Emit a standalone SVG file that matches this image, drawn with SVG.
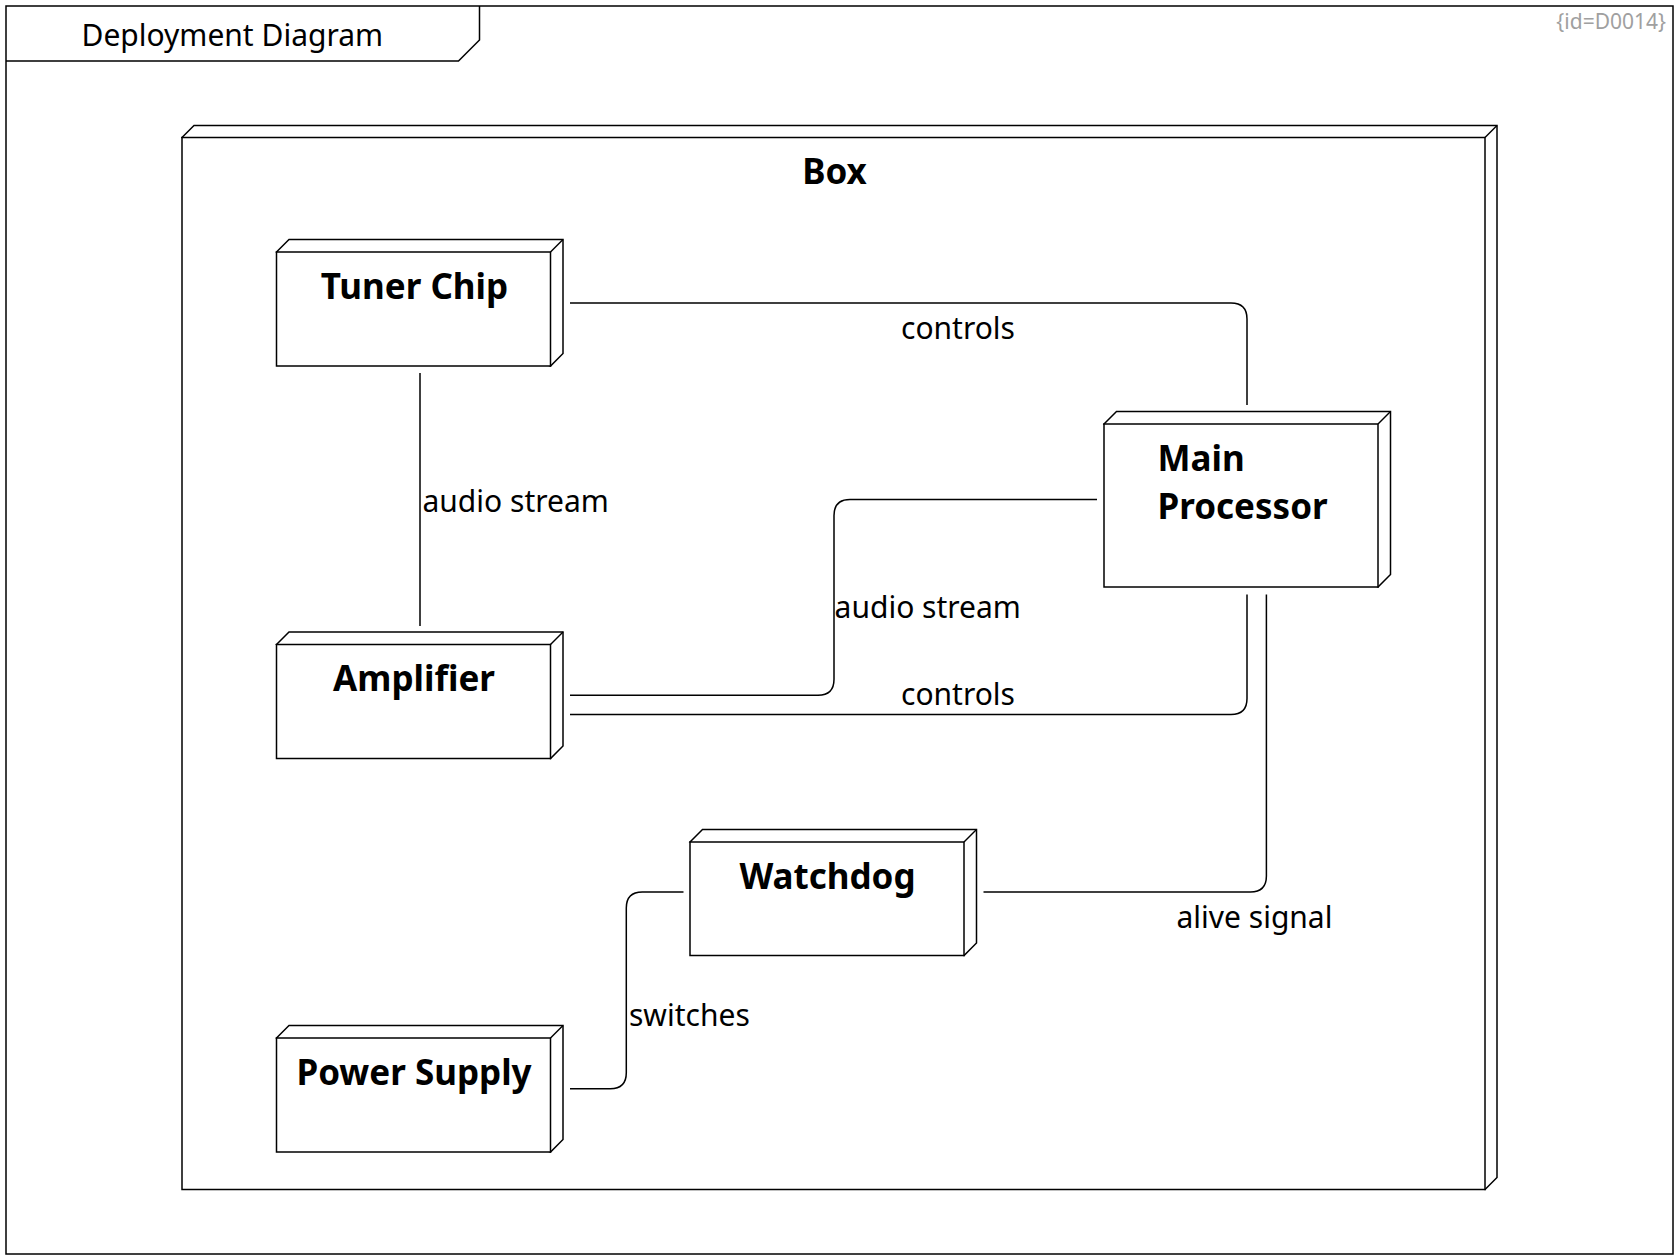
<svg xmlns="http://www.w3.org/2000/svg" width="1680" height="1260" viewBox="0 0 1680 1260">
<style>
.sh{fill:#ffffff;stroke:#000000;stroke-width:1.5;stroke-linejoin:miter}
.ln{fill:none;stroke:#000000;stroke-width:1.5}
.t{font-family:"Noto Sans","Open Sans",sans-serif;fill:#000000}
.nt{font-family:"Noto Sans","Open Sans",sans-serif;font-weight:bold;font-size:35px;fill:#000000}
.lb{font-family:"Noto Sans","Open Sans",sans-serif;font-size:30px;fill:#000000}
</style>
<rect width="1680" height="1260" fill="#ffffff"/>
<g id="frame">
<rect class="sh" x="6" y="6" width="1667" height="1248"/>
<path class="ln" d="M6,61 H458.5 L479.5,40 V6"/>
<text class="t" x="81.5" y="45.7" font-size="30">Deployment Diagram</text>
<text x="1666" y="29" font-family="Noto Sans, Open Sans, sans-serif" font-size="21" fill="#a0a0a0" text-anchor="end">{id=D0014}</text>
</g>
<g id="box">
<path class="sh" d="M182,137.5 l12,-12 h1303 v1052 l-12,12 z"/>
<rect class="sh" x="182" y="137.5" width="1303" height="1052"/>
<line class="ln" x1="1485" y1="137.5" x2="1497" y2="125.5"/>
<text class="nt" x="834.5" y="184" text-anchor="middle">Box</text>
</g>
<g id="connectors">
<path class="ln" d="M570,303 H1231 Q1247,303 1247,319 V405"/>
<path class="ln" d="M420,373 V626"/>
<path class="ln" d="M570,695.3 H818 Q834,695.3 834,679.3 V515.5 Q834,499.5 850,499.5 H1097"/>
<path class="ln" d="M570,714.4 H1231 Q1247,714.4 1247,698.4 V594.6"/>
<path class="ln" d="M983.5,892 H1250.4 Q1266.4,892 1266.4,876 V594.6"/>
<path class="ln" d="M570,1088.7 H610.3 Q626.3,1088.7 626.3,1072.7 V908 Q626.3,892 642.3,892 H683.5"/>
<text class="lb" x="901" y="339">controls</text>
<text class="lb" x="422.5" y="511.5">audio stream</text>
<text class="lb" x="834.6" y="618">audio stream</text>
<text class="lb" x="901" y="705">controls</text>
<text class="lb" x="1176.5" y="927.5">alive signal</text>
<text class="lb" x="629" y="1025.5">switches</text>
</g>
<g id="tuner-chip">
<path class="sh" d="M276.5,252 l12.5,-12.5 h274 v114 l-12.5,12.5 z"/>
<rect class="sh" x="276.5" y="252" width="274" height="114"/>
<line class="ln" x1="550.5" y1="252" x2="563" y2="239.5"/>
<text class="nt" x="414.5" y="298.5" text-anchor="middle">Tuner Chip</text>
</g>
<g id="amplifier">
<path class="sh" d="M276.5,644.5 l12.5,-12.5 h274 v114 l-12.5,12.5 z"/>
<rect class="sh" x="276.5" y="644.5" width="274" height="114"/>
<line class="ln" x1="550.5" y1="644.5" x2="563" y2="632"/>
<text class="nt" x="414" y="691" text-anchor="middle">Amplifier</text>
</g>
<g id="power-supply">
<path class="sh" d="M276.5,1038 l12.5,-12.5 h274 v114 l-12.5,12.5 z"/>
<rect class="sh" x="276.5" y="1038" width="274" height="114"/>
<line class="ln" x1="550.5" y1="1038" x2="563" y2="1025.5"/>
<text class="nt" x="414" y="1084.5" text-anchor="middle">Power Supply</text>
</g>
<g id="watchdog">
<path class="sh" d="M690,842 l12.5,-12.5 h274 v113.5 l-12.5,12.5 z"/>
<rect class="sh" x="690" y="842" width="274" height="113.5"/>
<line class="ln" x1="964" y1="842" x2="976.5" y2="829.5"/>
<text class="nt" x="827.5" y="888.5" text-anchor="middle">Watchdog</text>
</g>
<g id="main-processor">
<path class="sh" d="M1104,424 l12.5,-12.5 h274 v163 l-12.5,12.5 z"/>
<rect class="sh" x="1104" y="424" width="274" height="163"/>
<line class="ln" x1="1378" y1="424" x2="1390.5" y2="411.5"/>
<text class="nt" x="1157.5" y="470.5">Main</text>
<text class="nt" x="1157.5" y="518.8">Processor</text>
</g>
</svg>
